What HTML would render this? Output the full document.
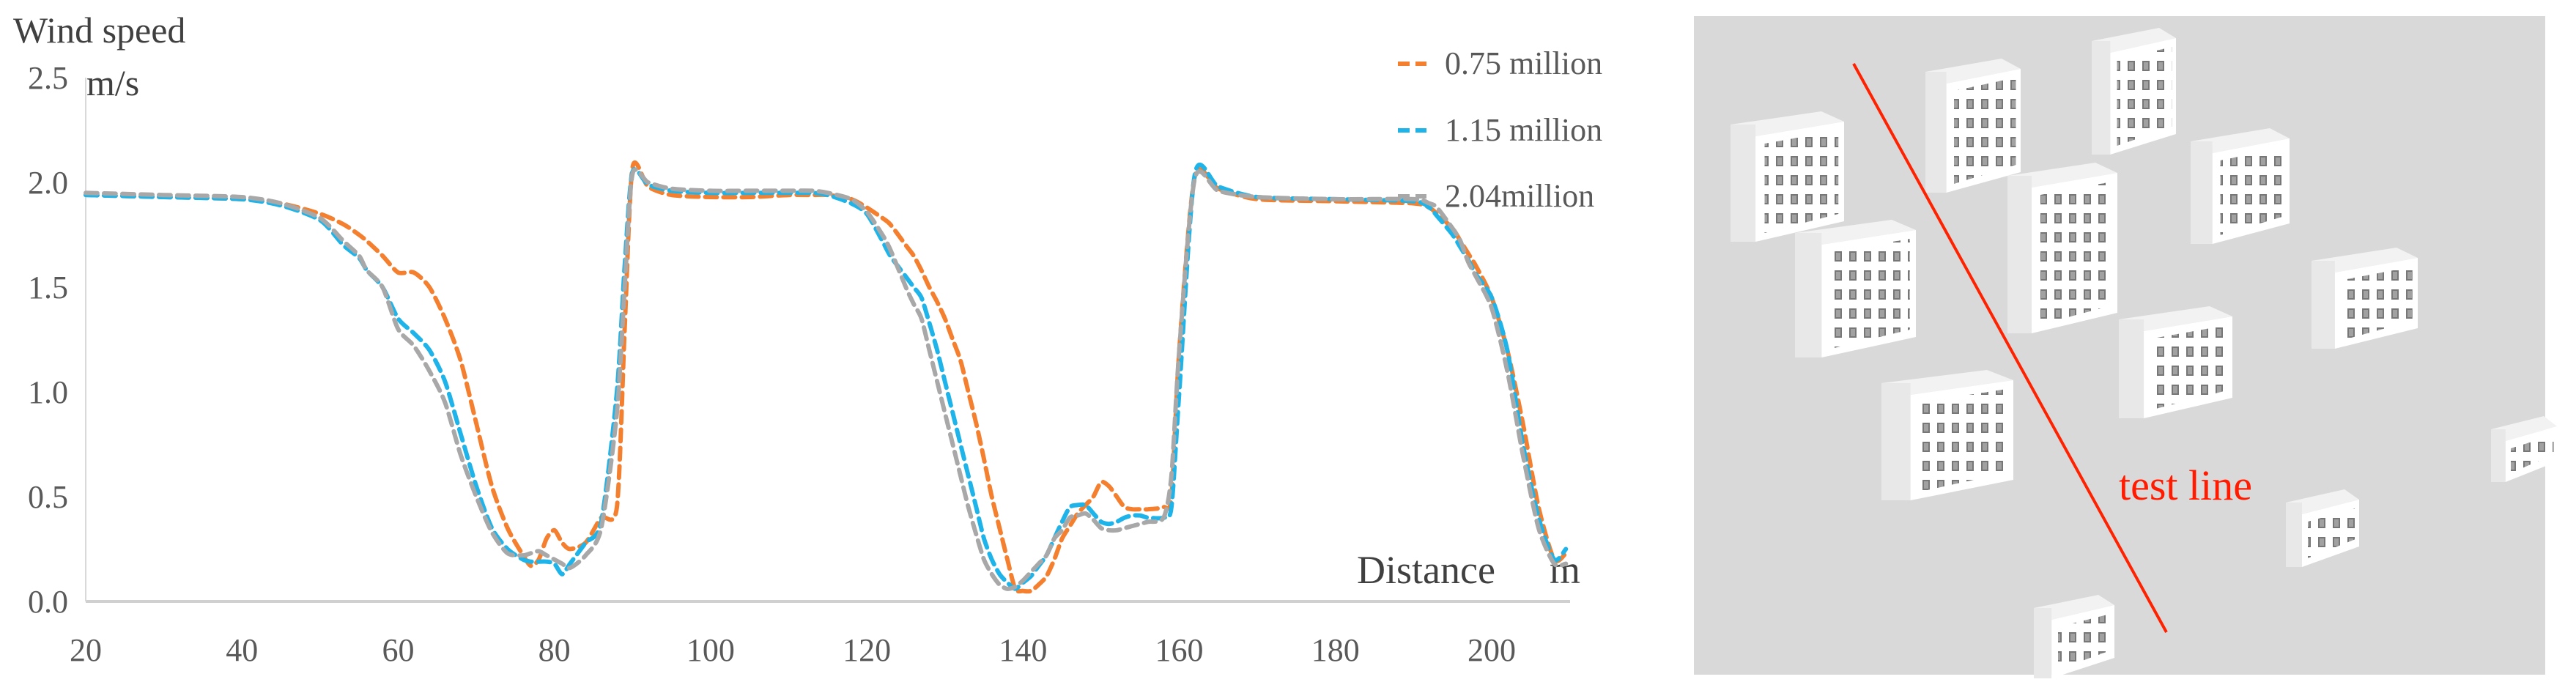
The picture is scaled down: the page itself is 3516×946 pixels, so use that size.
<!DOCTYPE html>
<html><head><meta charset="utf-8"><style>
html,body{margin:0;padding:0;background:#fff;width:3516px;height:946px;overflow:hidden}
svg{display:block}
text{font-family:"Liberation Serif",serif}
</style></head><body>
<svg id="root" width="3516" height="946" viewBox="0 0 3516 946">
<defs>
<pattern id="win" width="20" height="26" patternUnits="userSpaceOnUse"><rect x="4" y="5" width="10" height="14" fill="#555"/><rect x="6" y="7" width="6" height="10" fill="#8a8a8a"/></pattern>
</defs>
<g id="chart"></g>
<g id="scene">
<rect x="2312" y="22" width="1162" height="899" fill="#d9d9d9"/>
<g id="bldgs"></g>
<line x1="2530" y1="87" x2="2957" y2="863" stroke="#ff2200" stroke-width="4"/>
<text x="2892" y="682" font-size="58" fill="#ff1a00">test line</text>
</g>
</svg>
<script>
const ns="http://www.w3.org/2000/svg";
const xs=[20,30,40,45,50,53,55,56,58,60,62,64,66,68,70,72,74,76,77,78,79,80,81,82,84,86,88,89,90,92,95,100,105,110,113,115,118,120,122,123,125,126,127,128,129,130,131,132,133,134,135,136,137,138,139,140,141,142,143,144,145,146,147,148,149,150,151,152,153,154,155,156,158,159,160,162,165,170,180,190,192,193,195,196,197,198,200,202,204,206,208,209.5];
const s075=[1.94,1.93,1.92,1.90,1.85,1.80,1.75,1.72,1.65,1.57,1.57,1.50,1.35,1.15,0.85,0.55,0.35,0.22,0.17,0.20,0.30,0.34,0.28,0.25,0.28,0.40,0.45,1.30,2.07,1.98,1.94,1.93,1.93,1.94,1.94,1.94,1.92,1.88,1.83,1.80,1.70,1.65,1.58,1.50,1.43,1.35,1.25,1.15,1.00,0.85,0.68,0.50,0.35,0.20,0.06,0.05,0.05,0.08,0.12,0.20,0.30,0.36,0.42,0.46,0.50,0.57,0.55,0.50,0.45,0.44,0.44,0.44,0.45,0.50,1.20,2.03,1.97,1.92,1.91,1.90,1.88,1.85,1.78,1.72,1.66,1.60,1.45,1.20,0.85,0.45,0.20,0.23];
const s115=[1.94,1.93,1.92,1.89,1.82,1.70,1.64,1.58,1.50,1.35,1.28,1.20,1.05,0.80,0.55,0.35,0.25,0.20,0.19,0.19,0.19,0.18,0.13,0.18,0.28,0.38,1.00,1.60,2.05,1.99,1.96,1.95,1.95,1.95,1.95,1.94,1.90,1.85,1.72,1.65,1.55,1.50,1.45,1.33,1.20,1.05,0.90,0.75,0.60,0.45,0.30,0.20,0.13,0.09,0.06,0.09,0.12,0.17,0.22,0.30,0.38,0.45,0.46,0.46,0.42,0.38,0.37,0.38,0.40,0.41,0.41,0.40,0.40,0.45,1.00,2.04,1.98,1.93,1.92,1.91,1.88,1.84,1.75,1.69,1.63,1.56,1.45,1.20,0.75,0.40,0.20,0.25];
const s204=[1.95,1.94,1.93,1.90,1.83,1.72,1.65,1.58,1.50,1.30,1.22,1.10,0.95,0.70,0.50,0.33,0.23,0.22,0.23,0.24,0.22,0.20,0.18,0.16,0.22,0.35,0.90,1.50,2.04,2.00,1.97,1.96,1.96,1.96,1.96,1.95,1.92,1.86,1.75,1.68,1.50,1.42,1.35,1.20,1.05,0.90,0.75,0.60,0.45,0.32,0.20,0.13,0.08,0.06,0.07,0.10,0.14,0.18,0.22,0.30,0.34,0.40,0.41,0.42,0.39,0.35,0.34,0.34,0.35,0.36,0.37,0.38,0.40,0.60,1.20,2.02,1.96,1.93,1.92,1.92,1.90,1.88,1.78,1.72,1.62,1.55,1.40,1.10,0.70,0.35,0.18,0.18];
const xTicks=[20,40,60,80,100,120,140,160,180,200];
const yTicks=[0,0.5,1.0,1.5,2.0,2.5];
const yTickLabels=["0.0","0.5","1.0","1.5","2.0","2.5"];
const seriesNames=["0.75 million","1.15 million","2.04million"];
const seriesColors=["#f4802f","#1eb4ea","#a8a8a8"];

const X=v=>117+(v-20)*(2036-117)/180;
const Y=v=>821-v*286;
const chart=document.getElementById('chart');
function mk(tag,attrs,parent){const e=document.createElementNS(ns,tag);for(const k in attrs)e.setAttribute(k,attrs[k]);(parent||chart).appendChild(e);return e;}

let ax=mk('line',{x1:X(20),y1:Y(0),x2:2143,y2:Y(0),stroke:'#d0d0d0','stroke-width':4});


let ay=mk('line',{x1:X(20),y1:Y(2.5),x2:X(20),y2:Y(0),stroke:'#d9d9d9','stroke-width':2});


xTicks.forEach(t=>{const e=mk('text',{x:X(t),y:902,'font-size':44,fill:'#595959','text-anchor':'middle'});e.textContent=t;

});
yTicks.forEach((t,i)=>{const e=mk('text',{x:93,y:Y(t)+15,'font-size':44,fill:'#595959','text-anchor':'end'});e.textContent=yTickLabels[i];

});
let t1=mk('text',{x:18,y:58,'font-size':50,fill:'#404040'});t1.textContent='Wind speed';


let t2=mk('text',{x:118,y:130,'font-size':50,fill:'#404040'});t2.textContent='m/s';


let t3=mk('text',{x:1852,y:796,'font-size':54,fill:'#404040'});t3.textContent='Distance';


let t4=mk('text',{x:2115,y:796,'font-size':54,fill:'#404040'});t4.textContent='m';



function smooth(pts){let d='M'+pts[0][0]+','+pts[0][1];for(let i=0;i<pts.length-1;i++){const p0=pts[i-1]||pts[i],p1=pts[i],p2=pts[i+1],p3=pts[i+2]||p2;const c1=[p1[0]+(p2[0]-p0[0])/8,p1[1]+(p2[1]-p0[1])/8],c2=[p2[0]-(p3[0]-p1[0])/8,p2[1]-(p3[1]-p1[1])/8];d+=' C'+c1[0].toFixed(1)+','+c1[1].toFixed(1)+' '+c2[0].toFixed(1)+','+c2[1].toFixed(1)+' '+p2[0].toFixed(1)+','+p2[1].toFixed(1);}return d;}
[s075,s115,s204].forEach((s,k)=>{const pts=xs.map((x,i)=>[X(x),Y(s[i])]);const p=mk('path',{d:smooth(pts),fill:'none',stroke:seriesColors[k],'stroke-width':6,'stroke-dasharray':'16 9','stroke-linecap':'round','stroke-linejoin':'round'});

});
const ly=[87,178,268];
seriesNames.forEach((n,k)=>{const l=mk('line',{x1:1908,y1:ly[k],x2:1947,y2:ly[k],stroke:seriesColors[k],'stroke-width':6,'stroke-dasharray':'16 8'});


const t=mk('text',{x:1972,y:ly[k]+14,'font-size':44,fill:'#595959'});t.textContent=n;

});

const B=[[2362,152,155,160],[2628,80,130,165],[2855,38,115,155],[2450,300,165,170],[2740,222,150,215],[2990,175,135,140],[3155,338,145,120],[2892,418,155,135],[2568,505,180,160],[3400,568,90,72],[3120,668,100,88],[2776,812,110,96]];
const bg=document.getElementById('bldgs');
B.forEach(b=>{const g=mk('g',{},bg);


mk('polygon',{points:`${b[0]},${b[1]+18} ${b[0]+b[2]*0.8},${b[1]} ${b[0]+b[2]},${b[1]+14} ${b[0]+b[2]*0.22},${b[1]+34}`,fill:'#f2f2f2'},g);
mk('rect',{x:b[0],y:b[1]+18,width:b[2]*0.22,height:b[3],fill:'#e8e8e8'},g);
mk('polygon',{points:`${b[0]+b[2]*0.22},${b[1]+34} ${b[0]+b[2]},${b[1]+14} ${b[0]+b[2]},${b[1]+b[3]-10} ${b[0]+b[2]*0.22},${b[1]+b[3]+18}`,fill:'#ffffff'},g);
mk('polygon',{points:`${b[0]+b[2]*0.3},${b[1]+44} ${b[0]+b[2]*0.95},${b[1]+26} ${b[0]+b[2]*0.95},${b[1]+b[3]-20} ${b[0]+b[2]*0.3},${b[1]+b[3]+6}`,fill:'url(#win)',opacity:0.8},g);});
</script>
</body></html>
